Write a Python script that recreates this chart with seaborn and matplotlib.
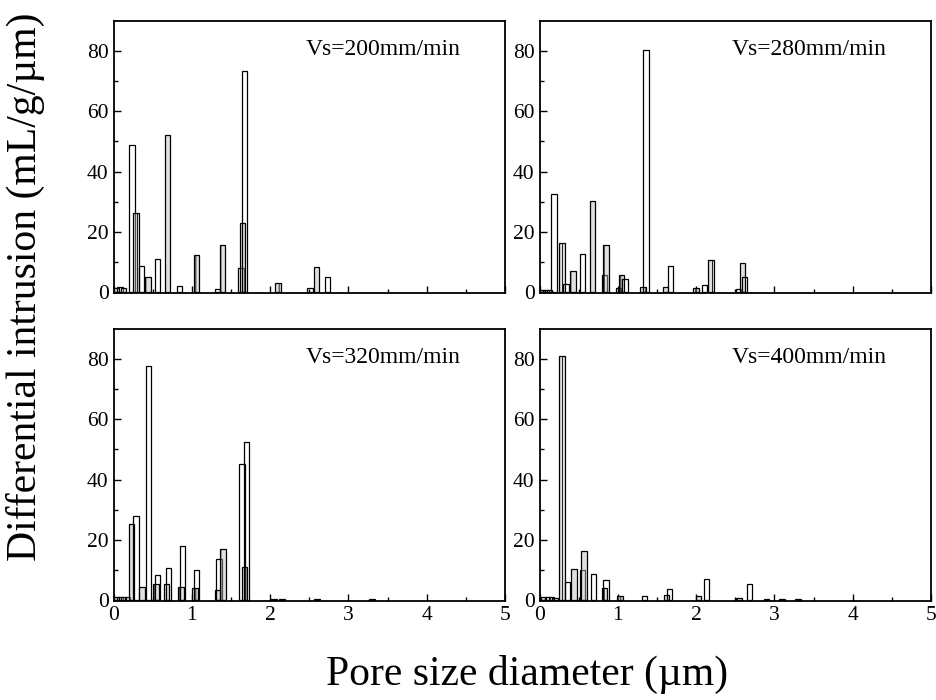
import numpy as np
import pandas as pd
import matplotlib
matplotlib.use("Agg")
import matplotlib.pyplot as plt
import seaborn as sns

# ---- data ----
labels = ["Vs=200mm/min", "Vs=280mm/min", "Vs=320mm/min", "Vs=400mm/min"]

d200 = [0.03, 0.08, 0.13, 0.236, 0.29, 0.36, 0.44, 0.56, 0.69, 0.84, 1.06, 1.33, 1.39,
        1.63, 1.65, 1.67, 2.10, 2.51, 2.59, 2.73]
v200 = [1.5, 1.8, 1.2, 48.8, 26.3, 8.6, 5.0, 11.0, 52.2, 2.0, 12.3, 1.0, 15.6,
        8.0, 23.0, 73.5, 2.9, 1.5, 8.2, 5.0]

d280 = [0.03, 0.08, 0.13, 0.185, 0.29, 0.34, 0.43, 0.55, 0.68, 0.83, 0.85, 1.01, 1.05,
        1.09, 1.32, 1.36, 1.61, 1.67, 2.00, 2.11, 2.19, 2.54, 2.59, 2.62]
v280 = [0.8, 0.8, 0.8, 32.7, 16.3, 2.8, 7.0, 12.5, 30.4, 5.8, 15.8, 1.5, 5.8,
        4.5, 1.8, 80.5, 1.8, 8.6, 1.5, 2.5, 10.6, 1.0, 9.8, 5.0]

d320 = [0.03, 0.08, 0.13, 0.18, 0.227, 0.29, 0.365, 0.446, 0.54, 0.56, 0.68, 0.70, 0.86,
        0.88, 1.04, 1.06, 1.33, 1.35, 1.40, 1.64, 1.67, 1.70, 2.05, 2.15, 2.60, 3.30]
v320 = [1.0, 1.0, 1.0, 1.0, 25.3, 27.9, 4.4, 77.6, 5.5, 8.3, 5.5, 10.8, 4.4,
        17.8, 4.0, 9.9, 3.5, 13.8, 17.0, 45.3, 11.0, 52.6, 0.5, 0.4, 0.3, 0.3]

d400 = [0.05, 0.10, 0.15, 0.20, 0.287, 0.36, 0.44, 0.55, 0.57, 0.69, 0.83, 0.85, 1.03,
        1.34, 1.62, 1.66, 2.03, 2.13, 2.55, 2.68, 2.90, 3.10, 3.30]
v400 = [1.0, 1.0, 1.0, 0.8, 81.0, 6.0, 10.2, 10.0, 16.3, 8.6, 4.0, 6.8, 1.5,
        1.2, 1.8, 3.8, 1.5, 7.1, 0.8, 5.3, 0.4, 0.4, 0.4]

xticks = [0, 1, 2, 3, 4, 5]
yticks = [0, 20, 40, 60, 80]
xlabel = "Pore size diameter (\u00b5m)"
ylabel = "Differential intrusion (mL/g/\u00b5m)"

panels = [(d200, v200), (d280, v280), (d320, v320), (d400, v400)]

# ---- style ----
sns.set_theme(style="ticks")
plt.rcParams["font.family"] = ["Liberation Serif", "DejaVu Serif"]
plt.rcParams["hatch.linewidth"] = 0.6
for key in ["text.color", "axes.labelcolor", "xtick.color", "ytick.color", "axes.edgecolor"]:
    plt.rcParams[key] = "black"

fig = plt.figure(figsize=(9.36, 7.0), dpi=100)
W, H = 936.0, 700.0
lefts = [113.5, 539.5]
tops = [21.0, 329.0]
aw, ah = 391.5, 272.0

bar_w = 0.07
for i, (d, v) in enumerate(panels):
    r, c = divmod(i, 2)
    ax = fig.add_axes([lefts[c] / W, 1 - (tops[r] + ah) / H, aw / W, ah / H])
    df = pd.DataFrame({"d": d, "v": v})
    native = np.min(np.diff(np.unique(df["d"])))
    sns.barplot(data=df, x="d", y="v", native_scale=True, errorbar=None,
                width=bar_w / native, color="#d0d0d0", saturation=1,
                edgecolor="black", linewidth=0.9, ax=ax)
    for k, p in enumerate(ax.patches):
        p.set_facecolor((0.72, 0.72, 0.72, 0.45) if k % 2 == 0 else (1, 1, 1, 0.0))
        p.set_hatch("||" if k % 2 == 0 else ":")
    ax.set_xlim(0, 5)
    ax.set_ylim(-0.3, 90)
    ax.set_xticks(xticks)
    ax.set_xticks([0.5, 1.5, 2.5, 3.5, 4.5], minor=True)
    ax.set_yticks(yticks)
    ax.set_yticks([10, 30, 50, 70], minor=True)
    ax.tick_params(which="both", direction="in", top=False, right=False,
                   labelsize=15.5, width=1.0, colors="black")
    ax.tick_params(which="major", length=5)
    ax.tick_params(which="minor", length=3)
    if r == 0:
        ax.tick_params(axis="x", labelbottom=False)
    ax.set_xlabel("")
    ax.set_ylabel("")
    for s in ax.spines.values():
        s.set_linewidth(1.3)
        s.set_color("black")
    ax.text(0.49, 0.895, labels[i], transform=ax.transAxes, fontsize=17,
            ha="left", va="center")

fig.text(25 / W, 1 - 287 / H, ylabel, rotation=90, ha="center", va="center",
         fontsize=30)
fig.text(527 / W, 1 - 674 / H, xlabel, ha="center", va="center", fontsize=30)

fig.savefig("out.png", dpi=100)
